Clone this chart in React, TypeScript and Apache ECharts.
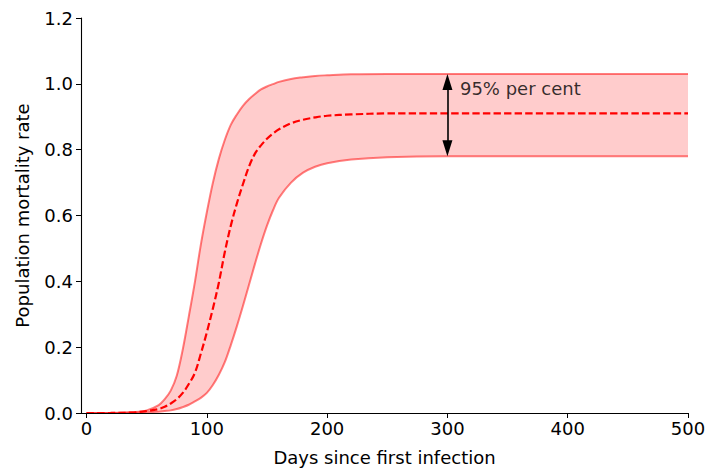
import React, { useEffect, useRef } from "react";
import * as echarts from "echarts";

const days = [0, 20, 40, 50, 60, 65, 70, 75, 80, 85, 90, 95, 100, 105, 110, 115, 120, 125, 130, 135, 140, 145, 150, 155, 160, 170, 180, 190, 200, 220, 250, 300, 400, 500];
const upper = [0, 0.0003, 0.003, 0.008, 0.024, 0.042, 0.068, 0.113, 0.193, 0.293, 0.396, 0.511, 0.61, 0.699, 0.772, 0.83, 0.876, 0.907, 0.933, 0.953, 0.969, 0.983, 0.992, 0.999, 1.006, 1.015, 1.02, 1.024, 1.026, 1.029, 1.03, 1.03, 1.03, 1.03];
const middle = [0, 0.0001, 0.002, 0.006, 0.012, 0.019, 0.029, 0.042, 0.061, 0.088, 0.121, 0.18, 0.245, 0.317, 0.396, 0.49, 0.57, 0.637, 0.695, 0.748, 0.788, 0.813, 0.833, 0.849, 0.862, 0.88, 0.891, 0.898, 0.903, 0.907, 0.91, 0.91, 0.91, 0.91];
const lower = [0, 0, 0.001, 0.002, 0.004, 0.006, 0.008, 0.012, 0.018, 0.025, 0.035, 0.046, 0.061, 0.085, 0.116, 0.155, 0.207, 0.264, 0.325, 0.389, 0.453, 0.514, 0.569, 0.616, 0.654, 0.7, 0.73, 0.748, 0.759, 0.77, 0.777, 0.78, 0.78, 0.78];
const xTicks = [0, 100, 200, 300, 400, 500];
const arrowDay = 300;
const arrowFrom = 0.78;
const arrowTo = 1.03;
const annotation = { day: 310, value: 0.987, text: "95% per cent" };

const FONT = "DejaVu Sans";
const FS = 18;
const HEAD_LEN = 16;

export default function App() {
  const ref = useRef<HTMLDivElement>(null);
  useEffect(() => {
    if (!ref.current) return;
    const chart = echarts.init(ref.current, null, { renderer: "svg" });
    const pair = (ys: number[]) => days.map((d, i) => [d, ys[i]]);
    const common = { type: "line", smooth: 0.35, symbol: "none", silent: true };
    const gridTop = 18;
    const gridBottom = 61;
    const plotH = 474 - gridTop - gridBottom;
    const headInData = ((HEAD_LEN / 2) / plotH) * 1.2;
    chart.setOption({
      animation: false,
      grid: { left: 81, right: 21, top: gridTop, bottom: gridBottom },
      xAxis: {
        type: "value",
        min: -4.6,
        max: 500,
        z: 10,
        name: "Days since first infection",
        nameLocation: "middle",
        nameGap: 35,
        nameTextStyle: { fontFamily: FONT, fontSize: FS, color: "#000" },
        axisLine: { onZero: false, lineStyle: { color: "#000", width: 1.1 } },
        axisTick: { show: true, length: 5, lineStyle: { color: "#000" }, customValues: xTicks },
        axisLabel: { fontFamily: FONT, fontSize: FS, color: "#000", margin: 6, customValues: xTicks },
        splitLine: { show: false },
      },
      yAxis: {
        type: "value",
        min: 0,
        max: 1.2,
        interval: 0.2,
        z: 10,
        name: "Population mortality rate",
        nameLocation: "middle",
        nameGap: 50,
        nameTextStyle: { fontFamily: FONT, fontSize: FS, color: "#000" },
        axisLine: { show: true, onZero: false, lineStyle: { color: "#000", width: 1.1 } },
        axisTick: { show: true, length: 5, lineStyle: { color: "#000" } },
        axisLabel: { fontFamily: FONT, fontSize: FS, color: "#000", margin: 8, formatter: (v: number) => v.toFixed(1) },
        splitLine: { show: false },
      },
      series: [
        {
          ...common,
          data: pair(upper),
          lineStyle: { opacity: 0 },
          areaStyle: { color: "#ffcccc", opacity: 1 },
        },
        {
          ...common,
          data: pair(lower),
          lineStyle: { opacity: 0 },
          areaStyle: { color: "#ffffff", opacity: 1 },
        },
        {
          ...common,
          data: pair(upper),
          lineStyle: { color: "rgba(255,0,0,0.5)", width: 2 },
        },
        {
          ...common,
          data: pair(lower),
          lineStyle: { color: "rgba(255,0,0,0.5)", width: 2 },
        },
        {
          ...common,
          data: pair(middle),
          lineStyle: { color: "#ff0000", width: 2.2, type: [7.4, 3.2] },
          markLine: {
            silent: true,
            symbol: ["triangle", "triangle"],
            symbolSize: [10, HEAD_LEN],
            lineStyle: { color: "#000", width: 1.6, type: "solid" },
            itemStyle: { color: "#000" },
            label: { show: false },
            data: [[{ coord: [arrowDay, arrowFrom + headInData] }, { coord: [arrowDay, arrowTo - headInData] }]],
          },
        },
        {
          type: "scatter",
          z: 20,
          data: [[annotation.day, annotation.value]],
          symbolSize: 1,
          itemStyle: { color: "rgba(0,0,0,0)" },
          silent: true,
          label: {
            show: true,
            position: "right",
            distance: 0,
            formatter: annotation.text,
            fontFamily: FONT,
            fontSize: FS,
            color: "#000",
          },
        },
      ],
    });
    return () => chart.dispose();
  }, []);
  return <div ref={ref} style={{ width: 709, height: 474, position: "absolute", left: 0, top: 0 }} />;
}
